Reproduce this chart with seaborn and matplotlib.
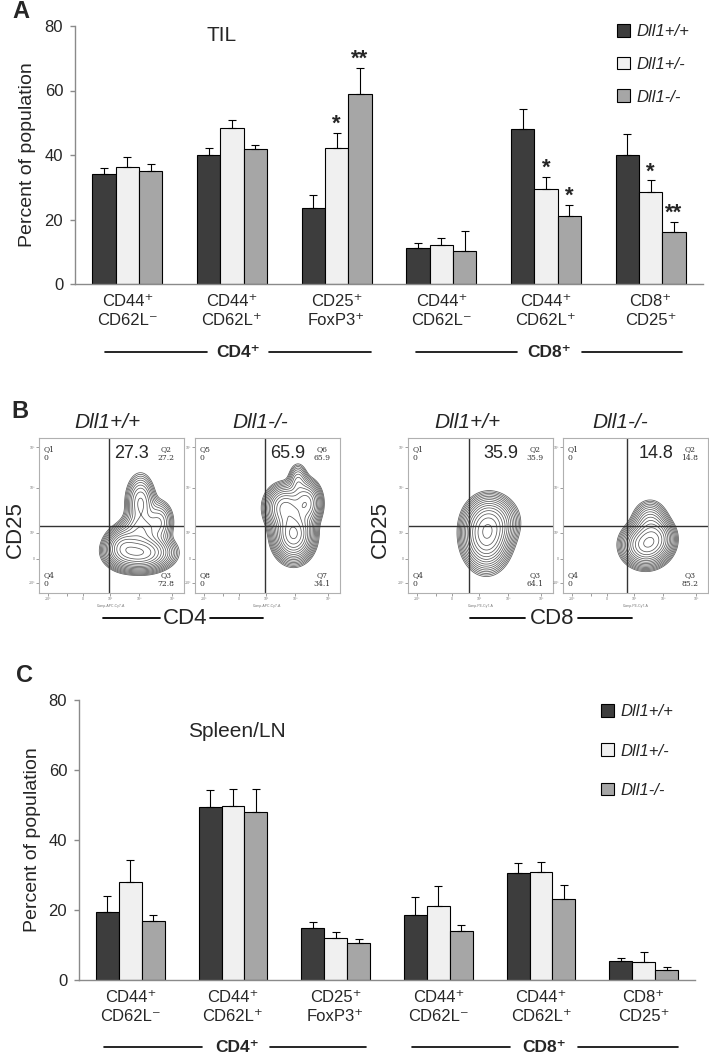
import numpy as np
import pandas as pd
import seaborn as sns
import matplotlib.pyplot as plt
from matplotlib.patches import Patch

genotypes = ['Dll1+/+', 'Dll1+/-', 'Dll1-/-']
bar_colors = ['#3d3d3d', '#f0f0f0', '#a6a6a6']
subset_keys = ['cd4_44p62n', 'cd4_44p62p', 'cd4_25p3p', 'cd8_44p62n', 'cd8_44p62p', 'cd8_8p25p']
subset_labels = ['CD44⁺\nCD62L⁻', 'CD44⁺\nCD62L⁺', 'CD25⁺\nFoxP3⁺',
                 'CD44⁺\nCD62L⁻', 'CD44⁺\nCD62L⁺', 'CD8⁺\nCD25⁺']

# panel A - TIL (mean, upper error)
til_wt = [34.2, 40.1, 23.5, 11.1, 48.0, 40.0]
til_het = [36.2, 48.4, 42.1, 12.1, 29.4, 28.5]
til_ko = [35.1, 41.8, 58.9, 10.1, 21.2, 16.0]
til_wt_err = [1.8, 2.2, 4.0, 1.5, 6.3, 6.4]
til_het_err = [3.2, 2.4, 4.7, 2.3, 3.8, 3.6]
til_ko_err = [2.0, 1.2, 8.0, 6.3, 3.4, 3.3]
# (subset index, genotype index, mark)
til_stars = [(2, 1, '*'), (2, 2, '**'), (4, 1, '*'), (4, 2, '*'), (5, 1, '*'), (5, 2, '**')]

# panel C - spleen / lymph node
spl_wt = [19.5, 49.5, 14.9, 18.6, 30.7, 5.4]
spl_het = [27.9, 49.7, 12.1, 21.1, 30.9, 5.2]
spl_ko = [16.9, 48.0, 10.5, 13.9, 23.2, 3.0]
spl_wt_err = [4.5, 4.9, 1.7, 5.2, 2.8, 1.0]
spl_het_err = [6.3, 4.9, 1.5, 5.8, 2.9, 2.9]
spl_ko_err = [1.6, 6.7, 1.1, 1.8, 3.9, 0.7]

# panel B - flow plots
flow_titles = ['Dll1+/+', 'Dll1-/-', 'Dll1+/+', 'Dll1-/-']
flow_big = ['27.3', '65.9', '35.9', '14.8']
flow_q2 = ['27.2', '65.9', '35.9', '14.8']
flow_q3 = ['72.8', '34.1', '64.1', '85.2']
flow_qnames = [('Q1', 'Q2', 'Q3', 'Q4'), ('Q5', 'Q6', 'Q7', 'Q8'),
               ('Q1', 'Q2', 'Q3', 'Q4'), ('Q1', 'Q2', 'Q3', 'Q4')]
flow_xlabels = ['Comp-APC-Cy7-A', 'Comp-APC-Cy7-A', 'Comp-PE-Cy7-A', 'Comp-PE-Cy7-A']
flow_gate_x = [0.48, 0.48, 0.42, 0.44]
flow_gate_y = 0.43
# contour blobs: (cx, cy, sx, sy, weight)
blobs_cd4_wt = [(0.70, 0.26, 0.10, 0.055, 1.0), (0.58, 0.30, 0.06, 0.06, 0.5),
                (0.70, 0.40, 0.07, 0.06, 0.3), (0.70, 0.58, 0.05, 0.09, 0.3),
                (0.83, 0.46, 0.05, 0.07, 0.2)]
blobs_cd4_ko = [(0.68, 0.38, 0.065, 0.08, 1.0), (0.62, 0.55, 0.065, 0.07, 0.6),
                (0.77, 0.58, 0.05, 0.07, 0.5), (0.71, 0.72, 0.035, 0.06, 0.15)]
blobs_cd8_wt = [(0.54, 0.37, 0.075, 0.10, 1.0), (0.58, 0.46, 0.085, 0.08, 0.4)]
blobs_cd8_ko = [(0.57, 0.31, 0.075, 0.065, 1.0), (0.65, 0.36, 0.06, 0.06, 0.4),
                (0.60, 0.45, 0.06, 0.07, 0.3)]
flow_blobs = [blobs_cd4_wt, blobs_cd4_ko, blobs_cd8_wt, blobs_cd8_ko]

sns.set_theme(style='white')
plt.rcParams['font.family'] = ['Liberation Sans', 'DejaVu Sans']

W, H = 709, 1057
fig = plt.figure(figsize=(W / 100, H / 100), dpi=100)


def fx(px):
    return px / W


def fy(py):
    return 1 - py / H


def bar_panel(ax, means, errs, stars=()):
    rows = []
    for g, m in zip(genotypes, means):
        for k, v in zip(subset_keys, m):
            rows.append({'subset': k, 'genotype': g, 'value': v})
    df = pd.DataFrame(rows)
    sns.barplot(data=df, x='subset', y='value', hue='genotype', order=subset_keys,
                hue_order=genotypes, palette=dict(zip(genotypes, bar_colors)),
                width=0.67, gap=0, saturation=1, edgecolor='black', linewidth=0.8,
                errorbar=None, legend=False, ax=ax)
    for cont, m, e in zip(ax.containers, means, errs):
        xs = [b.get_x() + b.get_width() / 2 for b in cont]
        ax.errorbar(xs, m, yerr=[np.zeros(len(e)), e], fmt='none', ecolor='black',
                    elinewidth=0.8, capsize=3, capthick=0.8)
    for gi, hi, s in stars:
        b = ax.containers[hi][gi]
        ax.text(b.get_x() + b.get_width() / 2, means[hi][gi] + errs[hi][gi] + 1.0, s,
                ha='center', va='baseline', fontsize=16, fontweight='bold')
    ax.set_xlim(-0.5, 5.5)
    ax.set_ylim(0, 80)
    ax.set_yticks([0, 20, 40, 60, 80])
    for s in ['top', 'right']:
        ax.spines[s].set_visible(False)
    for s in ['left', 'bottom']:
        ax.spines[s].set_color('#8a8a8a')
        ax.spines[s].set_linewidth(1.0)
    ax.tick_params(axis='y', left=True, length=3.5, width=1, color='#8a8a8a', labelsize=12, pad=5)
    ax.tick_params(axis='x', length=0, labelsize=12, pad=7)
    ax.set_xticks(range(6))
    ax.set_xticklabels(subset_labels, linespacing=1.35)
    ax.set_xlabel('')
    ax.set_ylabel('Percent of population', fontsize=14)
    ax.yaxis.set_label_coords(-0.062, 0.5)


def group_lines(ax, y, segs, labels):
    tr = ax.get_xaxis_transform()
    for x0, x1 in segs:
        ax.plot([x0, x1], [y, y], color='black', lw=1.2, transform=tr, clip_on=False)
    for x, t in labels:
        ax.text(x, y, t, transform=tr, ha='center', va='center', fontsize=12.5, fontweight='bold')


def legend_at(x, y, spacing):
    handles = [Patch(facecolor=c, edgecolor='black', linewidth=0.8, label=g)
               for g, c in zip(genotypes, bar_colors)]
    fig.legend(handles=handles, loc='upper left', bbox_to_anchor=(fx(x), fy(y)), frameon=False,
               prop={'style': 'italic', 'size': 12}, handlelength=0.8, handleheight=0.8,
               handletextpad=0.35, labelspacing=spacing, borderpad=0, borderaxespad=0)


# ---- panel A
axA = fig.add_axes([fx(75), fy(284), fx(703) - fx(75), fy(26) - fy(284)])
bar_panel(axA, [til_wt, til_het, til_ko], [til_wt_err, til_het_err, til_ko_err], til_stars)
axA.text(0.90, 77, 'TIL', fontsize=15, ha='center', va='center')
group_lines(axA, -0.264, [(-0.21, 0.76), (1.35, 2.33), (2.76, 3.72), (4.34, 5.30)],
            [(1.06, 'CD4⁺'), (4.03, 'CD8⁺')])
legend_at(617, 24, 1.05)

# ---- panel C
axC = fig.add_axes([fx(79), fy(980), fx(695) - fx(79), fy(700) - fy(980)])
bar_panel(axC, [spl_wt, spl_het, spl_ko], [spl_wt_err, spl_het_err, spl_ko_err])
axC.text(1.04, 71, 'Spleen/LN', fontsize=15, ha='center', va='center')
group_lines(axC, -0.24, [(-0.26, 0.70), (1.36, 2.30), (2.74, 3.70), (4.36, 5.33)],
            [(1.04, 'CD4⁺'), (4.03, 'CD8⁺')])
legend_at(601, 704, 1.45)

# ---- panel B
gx, gy = np.meshgrid(np.linspace(0, 1, 300), np.linspace(0, 1, 300))
flow_left = [39, 195, 408, 563]
for i, left in enumerate(flow_left):
    ax = fig.add_axes([fx(left), fy(593), 145 / W, 155 / H])
    ax.set_xlim(0, 1)
    ax.set_ylim(0, 1)
    for s in ax.spines.values():
        s.set_color('#b0b0b0')
        s.set_linewidth(0.8)
    z = np.zeros_like(gx)
    for cx, cy, sx, sy, w in flow_blobs[i]:
        z += w * np.exp(-((gx - cx) ** 2 / (2 * sx ** 2) + (gy - cy) ** 2 / (2 * sy ** 2)))
    ax.contour(gx, gy, z, levels=np.geomspace(0.025, 0.92, 15) * z.max(),
               colors='#5a5a5a', linewidths=0.55)
    ax.axvline(flow_gate_x[i], color='#333333', lw=1.0)
    ax.axhline(flow_gate_y, color='#333333', lw=1.0)
    ax.set_yticks([0.065, 0.22, 0.39, 0.68, 0.94])
    ax.set_yticklabels(['-10³', '0', '10³', '10⁴', '10⁵'])
    ax.set_xticks([0.06, 0.19, 0.30, 0.49, 0.69, 0.92])
    ax.set_xticklabels(['-10³', '', '0', '10³', '10⁴', '10⁵'])
    ax.tick_params(length=2, width=0.5, color='#777777', labelsize=2.5, pad=1, labelcolor='#777777',
                   bottom=True, left=True)
    ax.set_xlabel(flow_xlabels[i], fontsize=2.5, labelpad=2, color='#777777')
    q1, q2, q3, q4 = flow_qnames[i]
    kw = dict(fontsize=5.5, family='DejaVu Serif', color='#333333', linespacing=1.1)
    ax.text(0.03, 0.955, f'{q1}\n0', ha='left', va='top', **kw)
    ax.text(0.875, 0.955, f'{q2}\n{flow_q2[i]}', ha='center', va='top', **kw)
    ax.text(0.03, 0.14, f'{q4}\n0', ha='left', va='top', **kw)
    ax.text(0.875, 0.14, f'{q3}\n{flow_q3[i]}', ha='center', va='top', **kw)
    ax.text(0.64, 0.90, flow_big[i], ha='center', va='center', fontsize=13)

for x, t in zip([107, 260, 467, 620], flow_titles):
    fig.text(fx(x), fy(423), t, ha='center', va='center', fontsize=15, style='italic')
for x in [15, 380]:
    fig.text(fx(x), fy(530), 'CD25', ha='center', va='center', fontsize=16, rotation=90)
for x0, x1 in [(103, 160), (210, 263), (470, 525), (578, 632)]:
    fig.add_artist(plt.Line2D([fx(x0), fx(x1)], [fy(618), fy(618)], color='black', lw=1.3))
fig.text(fx(185), fy(618), 'CD4', ha='center', va='center', fontsize=16)
fig.text(fx(552), fy(618), 'CD8', ha='center', va='center', fontsize=16)

# panel letters
fig.text(fx(21), fy(12), 'A', ha='center', va='center', fontsize=17, fontweight='bold')
fig.text(fx(20), fy(411), 'B', ha='center', va='center', fontsize=17, fontweight='bold')
fig.text(fx(24), fy(676), 'C', ha='center', va='center', fontsize=17, fontweight='bold')

fig.savefig('out.png', dpi=100)
